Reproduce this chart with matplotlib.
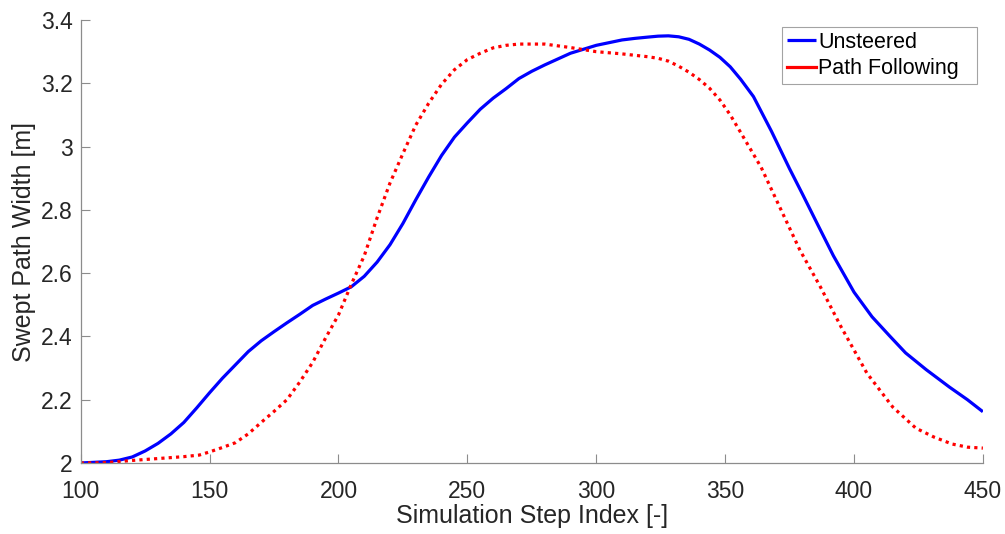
import matplotlib
matplotlib.use("Agg")
import matplotlib.pyplot as plt

# Swept path width along the manoeuvre
unsteered_step = [100, 110, 115, 120, 125, 130, 135, 140, 145, 150, 155, 160, 165,
                  170, 175, 180, 185, 190, 195, 200, 205, 210, 215, 220, 225, 230,
                  235, 240, 245, 250, 255, 260, 265, 270, 275, 280, 290, 300, 310,
                  315, 320, 324, 328, 332, 336, 340, 344, 348, 352, 356, 361, 368,
                  375, 380, 386, 392, 400, 407, 414, 420, 428, 437, 444, 450]
unsteered_width = [2.000, 2.004, 2.009, 2.019, 2.038, 2.062, 2.092, 2.128, 2.174, 2.222,
                   2.268, 2.310, 2.352, 2.386, 2.415, 2.443, 2.470, 2.498, 2.518, 2.537,
                   2.557, 2.590, 2.635, 2.690, 2.757, 2.832, 2.904, 2.972, 3.030, 3.075,
                   3.118, 3.153, 3.183, 3.215, 3.238, 3.258, 3.295, 3.320, 3.337, 3.342,
                   3.346, 3.349, 3.350, 3.347, 3.339, 3.324, 3.305, 3.282, 3.252, 3.213,
                   3.158, 3.048, 2.930, 2.850, 2.752, 2.655, 2.540, 2.462, 2.400, 2.348,
                   2.295, 2.240, 2.200, 2.162]

following_step = [100, 110, 120, 130, 140, 146, 150, 155, 160, 165, 170, 175, 180, 185,
                  190, 195, 200, 205, 210, 215, 220, 225, 230, 235, 240, 245, 250, 255,
                  260, 265, 270, 280, 290, 300, 310, 320, 324, 328, 332, 336, 340, 344,
                  348, 352, 356, 364, 371, 379, 387, 395, 405, 415, 424, 431, 438, 444,
                  450]
following_width = [2.000, 2.001, 2.008, 2.014, 2.020, 2.025, 2.035, 2.049, 2.064, 2.092,
                    2.128, 2.163, 2.200, 2.256, 2.318, 2.395, 2.468, 2.565, 2.655, 2.775,
                    2.885, 2.978, 3.068, 3.137, 3.197, 3.243, 3.275, 3.295, 3.312, 3.320,
                    3.324, 3.324, 3.313, 3.300, 3.293, 3.284, 3.279, 3.270, 3.254, 3.235,
                    3.212, 3.184, 3.147, 3.100, 3.045, 2.934, 2.812, 2.673, 2.556, 2.430,
                    2.284, 2.177, 2.110, 2.082, 2.060, 2.050, 2.047]

x_ticks = [100, 150, 200, 250, 300, 350, 400, 450]
y_ticks = [2, 2.2, 2.4, 2.6, 2.8, 3, 3.2, 3.4]
y_tick_labels = ["2", "2.2", "2.4", "2.6", "2.8", "3", "3.2", "3.4"]

plt.rcParams["font.family"] = ["Liberation Sans", "DejaVu Sans"]

fig = plt.figure(figsize=(10.05, 5.34), dpi=100)
ax = fig.add_axes([0.0803, 0.133, 0.8977, 0.8295])

ax.plot(unsteered_step, unsteered_width, color="#0000ff", lw=2.3,
        solid_capstyle="butt", solid_joinstyle="round", label="Unsteered")
ax.plot(following_step, following_width, color="#ff0000", lw=2.3,
        linestyle=(0, (1, 1.3)), dash_capstyle="butt", label="Path Following")

ax.set_xlim(100, 450)
ax.set_ylim(2, 3.4)
ax.set_xticks(x_ticks)
ax.set_yticks(y_ticks)
ax.set_yticklabels(y_tick_labels)

for side in ("top", "right"):
    ax.spines[side].set_visible(False)
for side in ("left", "bottom"):
    ax.spines[side].set_color("#8c8c8c")
    ax.spines[side].set_linewidth(0.9)

ax.tick_params(axis="both", direction="in", length=6.5, width=0.8,
               color="#8c8c8c", labelcolor="#262626", labelsize=16.5)
ax.tick_params(axis="x", pad=12)
ax.tick_params(axis="y", pad=6)

ax.set_xlabel("Simulation Step Index [-]", fontsize=18, color="#262626", labelpad=1)
ax.set_ylabel("Swept Path Width [m]", fontsize=18, color="#262626", labelpad=3)

# Legend box stretched to a fixed width, entries left-aligned inside it
leg = ax.legend(loc="upper left", bbox_to_anchor=(0.7772, 0.984, 0.2161, 0.0),
                mode="expand", fontsize=15.5,
                frameon=True, fancybox=False, edgecolor="#8c8c8c",
                handlelength=1.35, handletextpad=0.12, borderpad=0.22,
                labelspacing=0.25, borderaxespad=0)
leg.get_frame().set_linewidth(0.8)
for line in leg.get_lines():
    line.set_linestyle("-")
    line.set_linewidth(2.3)

fig.savefig("out.png", dpi=100, facecolor="white")
